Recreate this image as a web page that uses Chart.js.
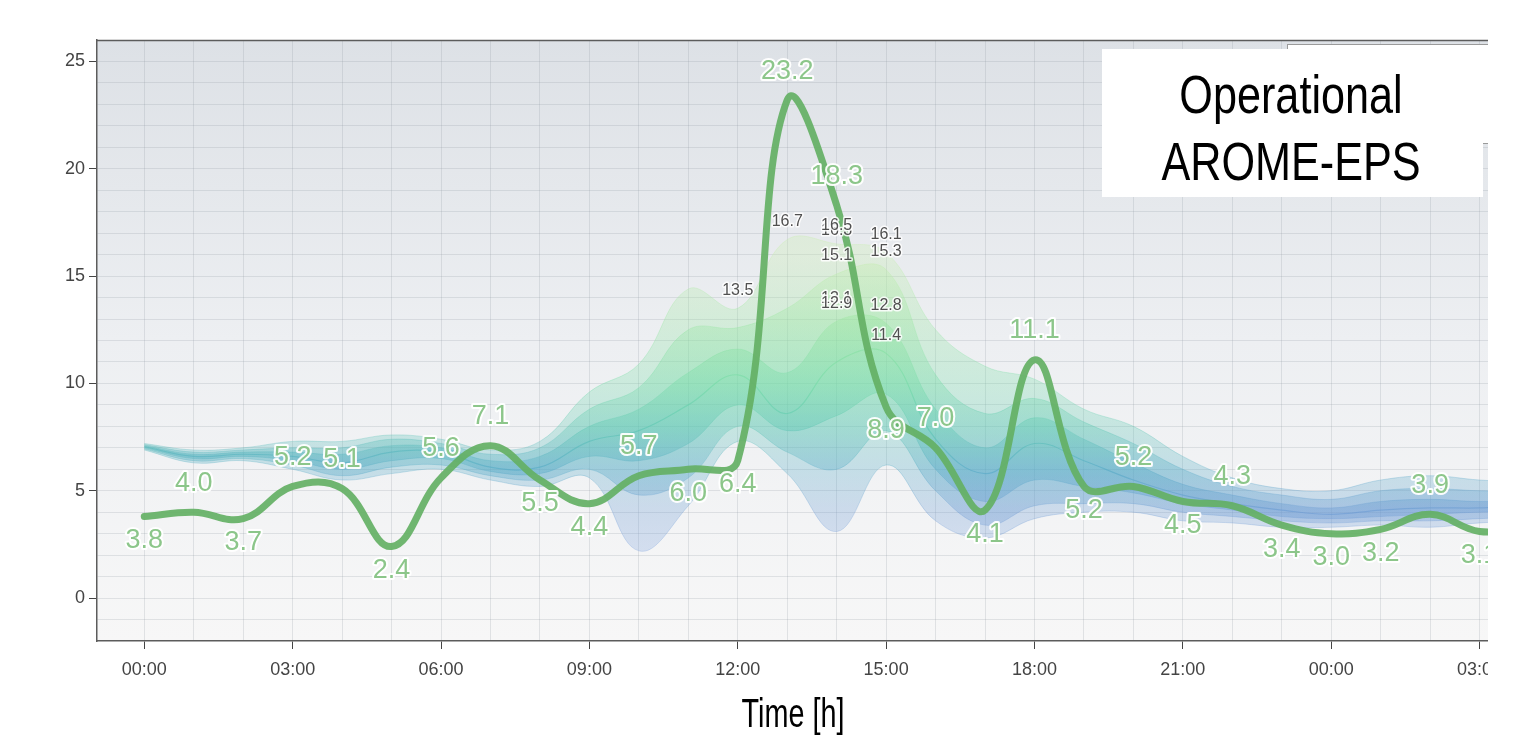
<!DOCTYPE html>
<html>
<head>
<meta charset="utf-8">
<title>Wind forecast – Operational AROME-EPS</title>
<script src="https://cdn.jsdelivr.net/npm/chart.js@4.4.1/dist/chart.umd.min.js"></script>
<style>
  html, body { margin: 0; padding: 0; background: #fff; }
  #frame { position: absolute; left: 0; top: 0; width: 1488px; height: 755px; overflow: hidden; background: #fff; }
  canvas { display: block; }
</style>
</head>
<body>
<div id="frame"><canvas id="chart" width="1600" height="755"></canvas></div>
<script>
// Forecast hours from the start of the run (00:00 of day 1)
const hours = [0, 1, 2, 3, 4, 5, 6, 7, 8, 9, 10, 11, 12, 13, 14, 15, 16, 17, 18, 19, 20, 21, 22, 23, 24, 25, 26, 27, 28];

// Operational (deterministic) run
const operational = [3.8, 4.0, 3.7, 5.2, 5.1, 2.4, 5.6, 7.1, 5.5, 4.4, 5.7, 6.0, 6.4, 23.2, 18.3, 8.9, 7.0, 4.1, 11.1, 5.2, 5.2, 4.5, 4.3, 3.4, 3.0, 3.2, 3.9, 3.1, 3.3];

// Ensemble distribution per hour
const ensMin = [6.9, 6.3, 6.4, 6.0, 5.5, 5.8, 6.0, 5.5, 5.2, 5.6, 2.2, 4.3, 7.3, 5.8, 3.1, 6.2, 3.6, 2.8, 3.7, 4.0, 4.0, 3.6, 3.5, 3.3, 3.3, 3.4, 3.3, 3.5, 3.6];
const ensP10 = [6.95, 6.4, 6.5, 6.2, 5.7, 6.1, 6.2, 5.7, 5.5, 6.0, 4.8, 5.6, 8.0, 6.8, 6.0, 7.8, 5.0, 3.4, 4.3, 4.4, 4.4, 4.0, 3.8, 3.6, 3.5, 3.6, 3.6, 3.7, 3.8];
const ensP25 = [7.0, 6.5, 6.6, 6.4, 6.0, 6.4, 6.5, 5.9, 5.8, 6.6, 6.4, 7.2, 9.0, 7.8, 8.5, 9.5, 6.0, 4.5, 5.5, 5.2, 4.9, 4.4, 4.1, 3.8, 3.7, 3.8, 3.9, 4.0, 4.0];
const ensMed = [7.05, 6.6, 6.7, 6.6, 6.3, 6.8, 6.8, 6.1, 6.1, 7.3, 7.8, 9.0, 10.4, 8.6, 11.0, 11.4, 7.4, 5.8, 7.2, 6.4, 5.5, 4.8, 4.4, 4.1, 3.9, 4.1, 4.2, 4.2, 4.3];
const ensP75 = [7.1, 6.7, 6.8, 6.8, 6.7, 7.1, 7.0, 6.4, 6.6, 8.0, 8.8, 10.5, 11.6, 10.5, 12.9, 12.8, 8.8, 7.0, 8.4, 7.4, 6.3, 5.3, 4.8, 4.4, 4.2, 4.5, 4.6, 4.5, 4.6];
const ensP90 = [7.15, 6.8, 6.9, 7.0, 7.0, 7.4, 7.2, 6.7, 7.0, 8.8, 9.8, 12.5, 12.6, 13.5, 15.1, 15.3, 10.4, 8.6, 9.3, 8.2, 7.2, 6.0, 5.2, 4.8, 4.6, 5.0, 5.1, 5.0, 5.0];
const ensMax = [7.2, 6.9, 7.0, 7.3, 7.3, 7.6, 7.4, 6.9, 7.3, 9.6, 10.9, 14.4, 13.5, 16.7, 16.5, 16.1, 12.5, 10.8, 10.2, 8.8, 8.0, 6.6, 5.6, 5.1, 5.0, 5.5, 5.7, 5.5, 5.4];

// Ensemble values annotated around the peak
const memberHours  = [12, 13, 14, 14, 14, 14, 14, 15, 15, 15, 15];
const memberValues = [13.5, 16.7, 16.3, 16.5, 15.1, 13.1, 12.9, 16.1, 15.3, 12.8, 11.4];

// Axis ticks
const xTickHours  = [0, 1, 2, 3, 4, 5, 6, 7, 8, 9, 10, 11, 12, 13, 14, 15, 16, 17, 18, 19, 20, 21, 22, 23, 24, 25, 26, 27];
const xTickLabels = ['00:00', '03:00', '06:00', '09:00', '12:00', '15:00', '18:00', '21:00', '00:00', '03:00'];
const yTickValues = [-1, 0, 1, 2, 3, 4, 5, 6, 7, 8, 9, 10, 11, 12, 13, 14, 15, 16, 17, 18, 19, 20, 21, 22, 23, 24, 25];
const yTickLabels = [0, 5, 10, 15, 20, 25];

const FONT = '"Liberation Sans", Arial, Helvetica, sans-serif';

// Colour ramp by wind value: blue for weak, teal in between, green for strong
const ramp = [
  [2,  [128, 163, 222]],
  [4,  [104, 152, 210]],
  [6,  [ 80, 168, 196]],
  [8,  [ 88, 198, 176]],
  [10, [112, 218, 164]],
  [13, [150, 230, 156]],
  [16, [198, 238, 170]]
];

function valueGradient(chart, alpha) {
  const { ctx, chartArea, scales } = chart;
  if (!chartArea || !scales.y) return 'rgba(0,0,0,0)';
  const v0 = ramp[0][0], v1 = ramp[ramp.length - 1][0];
  const g = ctx.createLinearGradient(0, scales.y.getPixelForValue(v0), 0, scales.y.getPixelForValue(v1));
  ramp.forEach(([v, c]) => g.addColorStop((v - v0) / (v1 - v0), `rgba(${c[0]},${c[1]},${c[2]},${alpha})`));
  return g;
}

const toPoints = arr => hours.map((h, i) => ({ x: h, y: arr[i] }));

function bandEdge(label, arr, fill, fillAlpha, order) {
  return {
    type: 'line',
    label,
    data: toPoints(arr),
    borderWidth: 1,
    borderColor: c => valueGradient(c.chart, 0.3),
    backgroundColor: c => valueGradient(c.chart, fillAlpha),
    fill,
    pointRadius: 0,
    tension: 0.4,
    order
  };
}

// Plot area background: soft grey at the top fading to near white
const plotBackground = {
  id: 'plotBackground',
  beforeDraw(chart) {
    const { ctx, chartArea: a } = chart;
    const g = ctx.createLinearGradient(0, a.top, 0, a.bottom);
    g.addColorStop(0, 'rgb(221,225,230)');
    g.addColorStop(0.5, 'rgb(237,239,242)');
    g.addColorStop(1, 'rgb(247,247,247)');
    ctx.save();
    ctx.fillStyle = g;
    ctx.fillRect(a.left, a.top, a.right - a.left, a.bottom - a.top);
    ctx.restore();
  }
};

function haloText(ctx, text, x, y, fill, halo, haloWidth) {
  ctx.lineJoin = 'round';
  ctx.lineWidth = haloWidth;
  ctx.strokeStyle = halo;
  ctx.strokeText(text, x, y);
  ctx.fillStyle = fill;
  ctx.fillText(text, x, y);
}

// Value labels on the operational run and the ensemble annotations
const valueLabels = {
  id: 'valueLabels',
  afterDatasetsDraw(chart) {
    const { ctx, scales } = chart;
    const x = scales.x, y = scales.y;
    ctx.save();
    ctx.textAlign = 'center';
    ctx.textBaseline = 'middle';

    ctx.font = '16px ' + FONT;
    memberValues.forEach((v, i) => {
      const px = x.getPixelForValue(memberHours[i]);
      const py = y.getPixelForValue(v) - 18;
      haloText(ctx, v.toFixed(1), px, py, '#505050', 'rgba(255,255,255,0.85)', 3);
    });

    ctx.font = '27px ' + FONT;
    operational.forEach((v, i) => {
      const h = hours[i];
      if (h > x.max) return;
      const prev = i > 0 ? operational[i - 1] : null;
      const next = i < operational.length - 1 && hours[i + 1] <= x.max ? operational[i + 1] : null;
      let ref;
      if (prev === null) ref = next;
      else if (next === null) ref = prev;
      else ref = (prev + next) / 2;
      const above = v >= ref;
      const px = x.getPixelForValue(h);
      const py = y.getPixelForValue(v) + (above ? -29 : 24);
      haloText(ctx, v.toFixed(1), px, py, '#8cc68a', 'rgba(255,255,255,0.95)', 4);
    });
    ctx.restore();
  }
};

// Frame line on top of the plot, legend panel, model caption and axis title
const overlays = {
  id: 'overlays',
  afterDraw(chart) {
    const { ctx, chartArea: a } = chart;
    ctx.save();
    ctx.strokeStyle = '#5c5c5c';
    ctx.lineWidth = 1.5;
    ctx.beginPath();
    ctx.moveTo(a.left, a.top + 0.5);
    ctx.lineTo(a.right + 20, a.top + 0.5);
    ctx.stroke();

    // legend panel (mostly covered by the caption)
    ctx.fillStyle = '#ffffff';
    ctx.fillRect(1287, 44, 300, 99);
    ctx.strokeStyle = '#9a9a9a';
    ctx.lineWidth = 1;
    ctx.strokeRect(1287.5, 44.5, 300, 99);

    // caption
    ctx.fillStyle = '#ffffff';
    ctx.fillRect(1102, 49, 381, 148);
    ctx.fillStyle = '#000000';
    ctx.textAlign = 'center';
    ctx.textBaseline = 'alphabetic';
    ctx.font = '54px ' + FONT;
    ctx.save();
    ctx.translate(1291, 0);
    ctx.scale(0.8, 1);
    ctx.fillText('Operational', 0, 113);
    ctx.fillText('AROME-EPS', 0, 180);
    ctx.restore();

    // x axis title
    ctx.font = '40px ' + FONT;
    ctx.save();
    ctx.translate(793, 0);
    ctx.scale(0.72, 1);
    ctx.fillText('Time [h]', 0, 727);
    ctx.restore();
    ctx.restore();
  }
};

const datasets = [
  bandEdge('min', ensMin, false, 0, 9),
  bandEdge('max', ensMax, 0, 0.28, 8),
  bandEdge('p10', ensP10, false, 0, 7),
  bandEdge('p90', ensP90, 2, 0.32, 6),
  bandEdge('p25', ensP25, false, 0, 5),
  bandEdge('p75', ensP75, 4, 0.36, 4),
  {
    type: 'line', label: 'median', data: toPoints(ensMed),
    borderWidth: 1.2, borderColor: c => valueGradient(c.chart, 0.55),
    pointRadius: 0, tension: 0.4, fill: false, order: 3
  },
  {
    type: 'line', label: 'annotated', data: memberHours.map((h, i) => ({ x: h, y: memberValues[i] })),
    showLine: false, pointRadius: 0, order: 2
  },
  {
    type: 'line', label: 'operational', data: toPoints(operational),
    borderWidth: 7, borderColor: 'rgba(100,176,100,0.92)',
    borderCapStyle: 'round', borderJoinStyle: 'round',
    pointRadius: 0, tension: 0.4, fill: false, order: 1
  }
];

new Chart(document.getElementById('chart'), {
  type: 'line',
  data: { datasets },
  plugins: [plotBackground, valueLabels, overlays],
  options: {
    responsive: false,
    animation: false,
    events: [],
    layout: { padding: { left: 0, right: 112, top: 40, bottom: 0 } },
    plugins: {
      legend: { display: false },
      tooltip: { enabled: false },
      filler: { propagate: false }
    },
    scales: {
      x: {
        type: 'linear',
        min: -0.956,
        max: 27.17,
        afterBuildTicks: s => { s.ticks = xTickHours.map(v => ({ value: v })); },
        afterFit: s => { s.height = 114; },
        border: { display: true, color: '#5c5c5c', width: 1.5 },
        grid: {
          color: 'rgba(140,148,158,0.22)',
          lineWidth: 1,
          tickLength: 8,
          tickColor: c => (c.tick && c.tick.value % 3 === 0) ? '#444' : 'rgba(0,0,0,0)'
        },
        ticks: {
          autoSkip: false,
          maxRotation: 0,
          padding: 10,
          color: '#444',
          font: { family: FONT, size: 18 },
          callback: v => (v % 3 === 0 ? xTickLabels[v / 3] : '')
        }
      },
      y: {
        type: 'linear',
        min: -2,
        max: 26,
        afterBuildTicks: s => { s.ticks = yTickValues.map(v => ({ value: v })); },
        afterFit: s => { s.width = 97; },
        border: { display: true, color: '#5c5c5c', width: 1.5 },
        grid: {
          color: 'rgba(140,148,158,0.22)',
          lineWidth: 1,
          tickLength: 8,
          tickColor: c => (c.tick && yTickLabels.includes(c.tick.value)) ? '#444' : 'rgba(0,0,0,0)'
        },
        ticks: {
          autoSkip: false,
          padding: 4,
          color: '#444',
          font: { family: FONT, size: 18 },
          callback: v => (yTickLabels.includes(v) ? String(v) : '')
        }
      }
    }
  }
});
</script>
</body>
</html>
